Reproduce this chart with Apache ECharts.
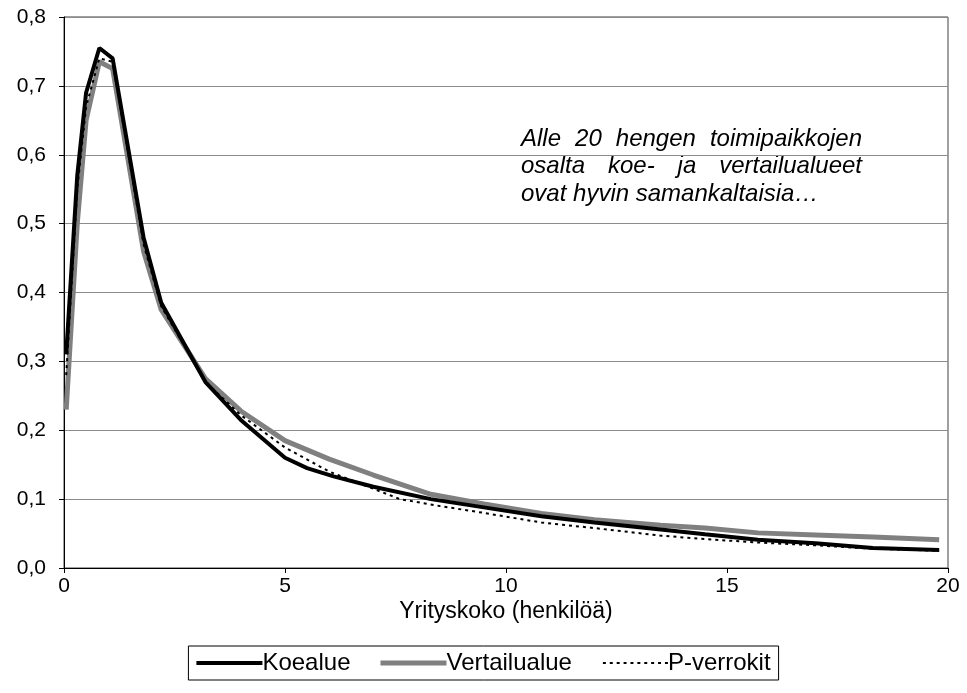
<!DOCTYPE html>
<html>
<head>
<meta charset="utf-8">
<script src="https://cdn.jsdelivr.net/npm/echarts@6/dist/echarts.min.js"></script>
<style>
html,body{margin:0;padding:0;background:#fff;}
#c{width:967px;height:693px;}
</style>
</head>
<body>
<div id="c"></div>
<script>
// Data
const xKoe = [0.05, 0.3, 0.5, 0.8, 1.1, 1.8, 2.2, 3.2, 4.0, 5.0, 5.5, 6.1, 7.0, 8.3, 9.5, 10.8, 12.0, 13.5, 14.5, 15.7, 17.0, 18.3, 19.8];
const koealue = [0.31, 0.57, 0.69, 0.755, 0.74, 0.48, 0.385, 0.27, 0.215, 0.16, 0.145, 0.133, 0.118, 0.1, 0.088, 0.075, 0.066, 0.056, 0.049, 0.041, 0.036, 0.029, 0.026];
const xVert = [0.05, 0.3, 0.5, 0.8, 1.1, 1.8, 2.2, 3.2, 4.0, 5.0, 6.0, 7.0, 8.3, 9.5, 10.8, 12.0, 13.5, 14.5, 15.7, 17.0, 18.3, 19.8];
const vertailualue = [0.23, 0.5, 0.65, 0.735, 0.725, 0.46, 0.375, 0.275, 0.228, 0.185, 0.158, 0.135, 0.107, 0.093, 0.079, 0.07, 0.062, 0.058, 0.051, 0.048, 0.045, 0.041];
const xP = [0.05, 0.3, 0.5, 0.8, 1.1, 1.8, 2.2, 3.2, 4.0, 5.0, 6.0, 7.0, 7.6, 8.5, 9.5, 10.8, 12.0, 13.5, 14.5, 15.7, 17.0, 18.3, 19.8];
const pVerrokit = [0.28, 0.55, 0.67, 0.74, 0.735, 0.47, 0.38, 0.27, 0.222, 0.175, 0.14, 0.115, 0.1, 0.09, 0.08, 0.066, 0.058, 0.047, 0.042, 0.037, 0.033, 0.028, 0.025];
const seriesNames = ['Koealue', 'Vertailualue', 'P-verrokit'];
const xTitle = 'Yrityskoko (henkilöä)';
const noteLines = ['Alle 20 hengen toimipaikkojen', 'osalta koe- ja vertailualueet', 'ovat hyvin samankaltaisia…'];

function pairs(xs, ys){ return xs.map((x,i)=>[x, ys[i]]); }

const FONT = '"Liberation Sans", Arial, sans-serif';
const chart = echarts.init(document.getElementById('c'), null, {renderer:'canvas'});

// justified annotation text
const noteLeft = 521, noteRight = 862, noteTop = 127, noteLH = 27.5, noteSize = 24;
const noteFont = 'italic ' + noteSize + 'px ' + FONT;
const ctx = document.createElement('canvas').getContext('2d');
ctx.font = noteFont;
const noteGraphics = [];
noteLines.forEach((line, li) => {
  const words = line.split(' ');
  const y = noteTop + li * noteLH;
  const justify = li < noteLines.length - 1;
  if (!justify) {
    noteGraphics.push({type:'text', left: noteLeft, top: y, style:{text: line, font: noteFont, fill:'#000'}});
    return;
  }
  const widths = words.map(w => ctx.measureText(w).width);
  const total = widths.reduce((a,b)=>a+b,0);
  const gap = (noteRight - noteLeft - total) / (words.length - 1);
  let x = noteLeft;
  words.forEach((w, wi) => {
    noteGraphics.push({type:'text', left: x, top: y, style:{text: w, font: noteFont, fill:'#000'}});
    x += widths[wi] + gap;
  });
});

// legend icons: 66x14 box with a line drawn inside (degenerate corner points fix the box)
const corners = 'M0,0 L0.01,0 Z M66,14 L65.99,14 Z ';
const iconSolid = 'path://' + corners + 'M0,5 H66 V9 H0 Z';
const iconGray = 'path://' + corners + 'M0,4.5 H66 V9.5 H0 Z';
let dots = '';
for (let x = 1; x < 66; x += 7) dots += 'M' + x + ',6 H' + (x + 3) + ' V8 H' + x + ' Z ';
const iconDash = 'path://' + corners + dots;
const icons = [iconSolid, iconGray, iconDash];

chart.setOption({
  animation: false,
  backgroundColor: '#fff',
  textStyle: {fontFamily: FONT},
  grid: {left: 64, right: 19, top: 17, bottom: 125, show: true, borderColor: '#404040', borderWidth: 1},
  xAxis: {
    type: 'value', min: 0, max: 20, interval: 5,
    name: xTitle, nameLocation: 'middle', nameGap: 32, nameMoveOverlap: false,
    nameTextStyle: {fontSize: 23, color: '#000', fontFamily: FONT},
    axisLine: {lineStyle: {color: '#000', width: 1}},
    axisTick: {show: true, inside: false, length: 5, lineStyle: {color: '#000'}},
    axisLabel: {fontSize: 21, color: '#000', margin: 8, fontFamily: FONT},
    splitLine: {show: false}
  },
  yAxis: {
    type: 'value', min: 0, max: 0.8, interval: 0.1,
    axisLine: {show: true, lineStyle: {color: '#000', width: 1}},
    axisTick: {show: true, inside: false, length: 5, lineStyle: {color: '#000'}},
    axisLabel: {fontSize: 21, color: '#000', margin: 18, fontFamily: FONT,
      formatter: v => v.toFixed(1).replace('.', ',')},
    splitLine: {show: true, lineStyle: {color: '#8c8c8c', width: 1}}
  },
  legend: {
    show: true, bottom: 13, left: 'center',
    data: seriesNames.map((n, i) => ({name: n, icon: icons[i]})),
    borderColor: '#000', borderWidth: 1, padding: [5, 8, 5, 8],
    itemGap: 30, itemWidth: 66, itemHeight: 14,
    textStyle: {fontSize: 24, color: '#000', fontFamily: FONT, padding: [0,0,0,-5]}
  },
  series: [
    {name: seriesNames[0], type: 'line', data: pairs(xKoe, koealue), showSymbol: false, symbol: 'none', z: 3,
     lineStyle: {color: '#000', width: 4}, itemStyle: {color: '#000'}},
    {name: seriesNames[1], type: 'line', data: pairs(xVert, vertailualue), showSymbol: false, symbol: 'none', z: 2,
     lineStyle: {color: '#808080', width: 5}, itemStyle: {color: '#808080'}},
    {name: seriesNames[2], type: 'line', data: pairs(xP, pVerrokit), showSymbol: false, symbol: 'none', z: 4,
     lineStyle: {color: '#000', width: 2, type: [3, 4]}, itemStyle: {color: '#000'}}
  ],
  graphic: noteGraphics
});
</script>
</body>
</html>
